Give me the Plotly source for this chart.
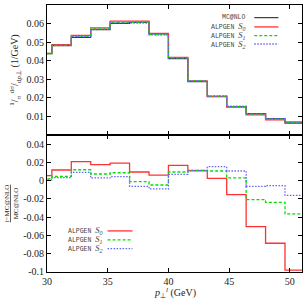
import plotly.graph_objects as go

# bin edges (GeV)
edges = [28.8, 30.4, 32.0, 33.6, 35.2, 36.8, 38.4, 40.0, 41.6, 43.2, 44.8, 46.4, 48.0, 49.6, 51.2]

# normalised distributions (1/GeV)
mcnlo = [0.0438, 0.0481, 0.0526, 0.0567, 0.0601, 0.0607, 0.0544, 0.0411, 0.0288, 0.0207, 0.0153, 0.0115, 0.0088, 0.0070]
alp_s0 = [0.0440, 0.0487, 0.0537, 0.0577, 0.0613, 0.0613, 0.0547, 0.0418, 0.0291, 0.0208, 0.0151, 0.0109, 0.0082, 0.0063]
alp_s1 = [0.0439, 0.0483, 0.0532, 0.0571, 0.0606, 0.0606, 0.0541, 0.0415, 0.0291, 0.0209, 0.0153, 0.0113, 0.0086, 0.0067]
alp_s2 = [0.0438, 0.0483, 0.0531, 0.0569, 0.0604, 0.0603, 0.0539, 0.0414, 0.0291, 0.0210, 0.0155, 0.0114, 0.0088, 0.0069]

# relative differences (i - MC@NLO)/MC@NLO
rat_s0 = [0.0055, 0.0117, 0.0208, 0.0175, 0.0193, 0.0095, 0.0062, 0.0167, 0.0109, 0.0025, -0.0153, -0.0503, -0.0685, -0.098]
rat_s1 = [0.0019, 0.0047, 0.0120, 0.0073, 0.0087, -0.0011, -0.0047, 0.0095, 0.0113, 0.0106, 0.0030, -0.0208, -0.0237, -0.0364]
rat_s2 = [0.0008, 0.0033, 0.0090, 0.0030, 0.0044, -0.0062, -0.0090, 0.0069, 0.0113, 0.0153, 0.0106, -0.0062, -0.0055, -0.0160]

top_ticks = [0.01, 0.02, 0.03, 0.04, 0.05, 0.06, 0.07]
top_ticktext = ["0.01", "0.02", "0.03", "0.04", "0.05", "0.06", "0.07"]
bot_ticks = [-0.1, -0.08, -0.06, -0.04, -0.02, 0, 0.02, 0.04]
bot_ticktext = ["-0.1", "-0.08", "-0.06", "-0.04", "-0.02", "0", "0.02", "0.04"]
x_ticks = [30, 35, 40, 45, 50]

RED = "rgb(255,50,50)"
GREEN = "rgb(0,225,0)"
BLUE = "rgb(100,100,255)"
BLACK = "rgb(60,60,60)"

styles = {
    "MC@NLO": dict(color=BLACK, width=1.2, dash="solid"),
    "S0": dict(color=RED, width=1.3, dash="solid"),
    "S1": dict(color=GREEN, width=1.3, dash="3px,2px"),
    "S2": dict(color=BLUE, width=1.3, dash="1.5px,1.5px"),
}

def step(vals):
    return vals + [vals[-1]]

fig = go.Figure()
for name, vals in [("MC@NLO", mcnlo), ("S0", alp_s0), ("S1", alp_s1), ("S2", alp_s2)]:
    fig.add_trace(go.Scatter(x=edges, y=step(vals), mode="lines", line_shape="hv",
                             line=styles[name], xaxis="x", yaxis="y", showlegend=False))
for name, vals in [("S0", rat_s0), ("S1", rat_s1), ("S2", rat_s2)]:
    fig.add_trace(go.Scatter(x=edges, y=step(vals), mode="lines", line_shape="hv",
                             line=styles[name], xaxis="x2", yaxis="y2", showlegend=False))

SERIF = "Liberation Serif"
MONO = "Liberation Mono"
TXT = "#222"
axis_common = dict(showline=True, linecolor="black", linewidth=1, mirror="ticks",
                   ticks="inside", ticklen=4, tickcolor="black", showgrid=False, zeroline=False,
                   tickfont=dict(family=SERIF, size=10, color=TXT))

split = 0.513
fig.update_layout(
    width=304, height=300,
    margin=dict(l=47, r=2, t=5, b=28),
    paper_bgcolor="white", plot_bgcolor="white",
    xaxis=dict(domain=[0, 1], range=[30, 51], anchor="y", tickvals=x_ticks, showticklabels=False, **axis_common),
    yaxis=dict(domain=[split, 1], range=[0, 0.07], anchor="x", tickvals=top_ticks, ticktext=top_ticktext,
               title=dict(text="<sup>1</sup>/<sub>σ</sub> <sup>dσ</sup>/<sub>d<i>p</i>⊥</sub> (1/GeV)",
                          font=dict(family=SERIF, size=10, color=TXT), standoff=5),
               **axis_common),
    xaxis2=dict(domain=[0, 1], range=[30, 51], anchor="y2", tickvals=x_ticks, **axis_common),
    yaxis2=dict(domain=[0, split], range=[-0.1, 0.05], anchor="x2", tickvals=bot_ticks, ticktext=bot_ticktext,
                title=dict(text="<u>i−MC@NLO</u><br>MC@NLO",
                           font=dict(family=SERIF, size=7, color=TXT), standoff=3),
                **axis_common),
)

# x-axis title
fig.add_annotation(x=0.5, y=-0.08, xref="paper", yref="paper", showarrow=False,
                   text="<i>p</i><sub>⊥</sub><sup><i>l</i></sup> (GeV)",
                   xanchor="center", yanchor="middle", font=dict(family=SERIF, size=10, color=TXT))

# legends (text left, sample line right)
leg_font = dict(family=MONO, size=6.5, color="#444")
def leg_text(mono_txt, it_txt):
    if not it_txt:
        return mono_txt
    return mono_txt + f"<span style='font-family:{SERIF};font-size:8.5px'><i>{it_txt}</i></span>"

top_rows = [("MC@NLO", "", "MC@NLO", 0.0632), ("ALPGEN ", "S<sub>0</sub>", "S0", 0.0582),
            ("ALPGEN ", "S<sub>1</sub>", "S1", 0.0535), ("ALPGEN ", "S<sub>2</sub>", "S2", 0.0490)]
for mono_txt, it_txt, key, yv in top_rows:
    fig.add_annotation(x=46.55, y=yv, xref="x", yref="y", text=leg_text(mono_txt, it_txt), showarrow=False,
                       xanchor="right", yanchor="middle", font=leg_font)
    fig.add_shape(type="line", x0=47.07, x1=49.06, y0=yv, y1=yv, xref="x", yref="y", line=styles[key])

bot_rows = [("S<sub>0</sub>", "S0", -0.055), ("S<sub>1</sub>", "S1", -0.0648), ("S<sub>2</sub>", "S2", -0.0743)]
for it_txt, key, yv in bot_rows:
    fig.add_annotation(x=31.54, y=yv, xref="x2", yref="y2", text=leg_text("ALPGEN ", it_txt), showarrow=False,
                       xanchor="left", yanchor="middle", font=leg_font)
    fig.add_shape(type="line", x0=34.99, x1=37.04, y0=yv, y1=yv, xref="x2", yref="y2", line=styles[key])

fig.write_html("out.html", config={"displayModeBar": False},
               post_script="document.body.style.margin='0px';document.body.style.padding='0px';")
